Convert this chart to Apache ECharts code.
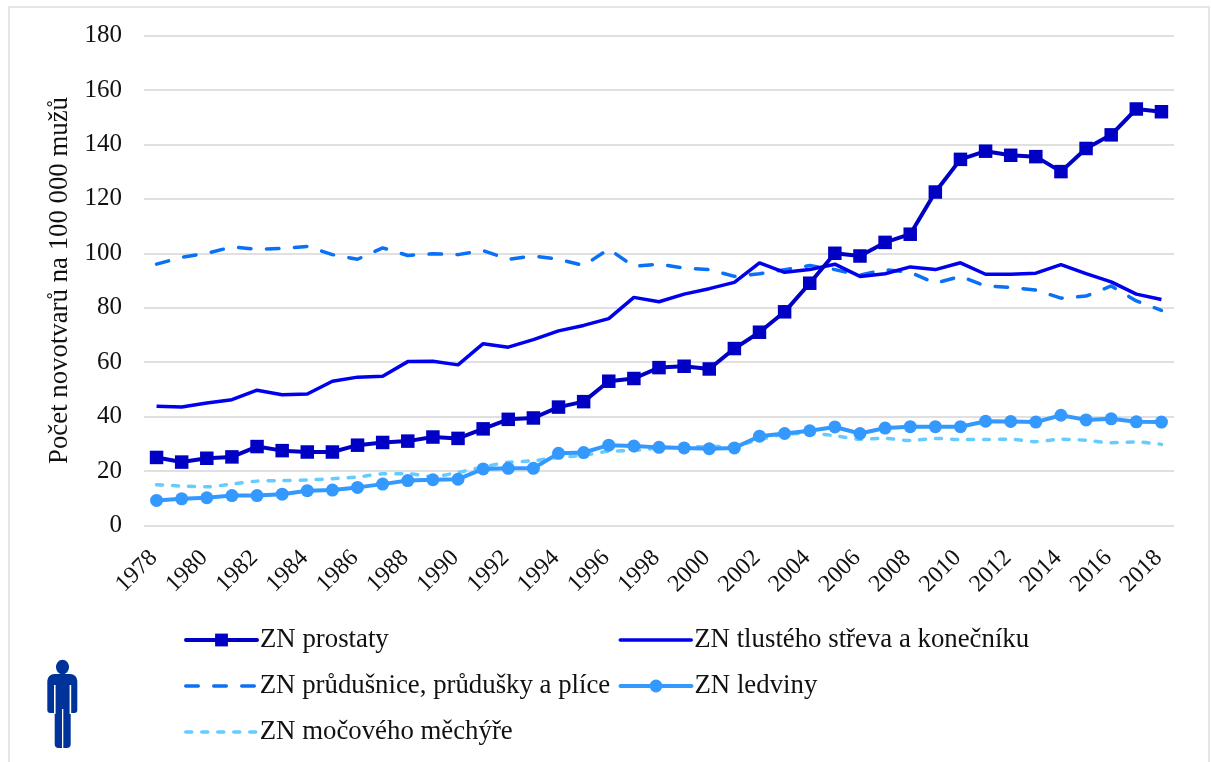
<!DOCTYPE html>
<html><head><meta charset="utf-8">
<style>html,body{margin:0;padding:0;background:#fff}#c{width:1211px;height:762px}</style>
<script src="https://cdn.jsdelivr.net/npm/echarts@6/dist/echarts.min.js"></script></head>
<body><div id="c"></div>
<script>
const years=[1978,1979,1980,1981,1982,1983,1984,1985,1986,1987,1988,1989,1990,1991,1992,1993,1994,1995,1996,1997,1998,1999,2000,2001,2002,2003,2004,2005,2006,2007,2008,2009,2010,2011,2012,2013,2014,2015,2016,2017,2018].map(String);
const prostate=[25,23.3,24.7,25.2,29,27.5,27,27,29.5,30.5,31,32.5,32,35.5,39,39.5,43.5,45.5,53,54,58,58.5,57.5,65,71,78.5,89,100,99,104,107,122.5,134.5,137.5,136,135.5,130,138.5,143.5,153,152];
const colon=[43.8,43.5,45,46.2,49.7,48,48.3,53,54.5,54.8,60.2,60.3,59,66.8,65.5,68.3,71.5,73.5,76,83.8,82.2,85,87,89.3,96.5,93,94,96,91.5,92.5,95,94,96.5,92.3,92.3,92.7,95.8,92.5,89.5,85,83];
const lung=[96,98.5,100,102.3,101.5,101.8,102.5,99.5,97.8,102,99.2,99.8,99.5,101,97.8,99,97.8,95.5,101.5,95.2,96,94.5,94,91.5,92.5,94,95.5,94,92,94,93,89,91.5,88,87.5,86.5,83.5,84.3,88,82.5,79];
const kidney=[9.2,9.8,10.2,11,11,11.5,12.8,13,14,15.2,16.5,16.8,17,20.8,21,21,26.5,26.8,29.5,29.2,28.7,28.5,28.2,28.5,32.8,33.8,34.8,36.2,33.8,35.8,36.3,36.3,36.3,38.3,38.2,38,40.5,38.8,39.2,38.1,38];
const bladder=[15,14.5,14.2,15.2,16.3,16.5,16.7,17.2,17.8,19,19,18,19.5,21.5,23.2,23.8,25,25.8,27.3,27.5,28.5,28.8,29,29.3,31.5,33.5,33.8,33,31.7,32,31.2,32,31.6,31.6,31.7,30.8,31.7,31.3,30.4,30.7,29.8];
const names=['ZN prostaty','ZN tlustého střeva a konečníku','ZN průdušnice, průdušky a plíce','ZN ledviny','ZN močového měchýře'];
const yTitle='Počet novotvarů na 100 000 mužů';
const serif='"Liberation Serif","Times New Roman",serif';
const colors=['#0000c4','#0000ee','#0a70f5','#3399ff','#66ccff'];
const widths=[4,3.5,3.5,4,3.5];
const dashes=['solid','solid',[12.5,15.5],'solid',[6,10]];
const hasSymbol=[true,false,false,true,false];
const legendAt=[[184,640],[618.5,640],[184,686],[618.5,686],[184,732]];
const iconColor='#003399';
const ch=echarts.init(document.getElementById('c'),null,{renderer:'canvas'});
ch.setOption({
 animation:false,
 backgroundColor:'#fff',
 grid:{left:144,right:37,top:35.5,bottom:236.5,containLabel:false},
 legend:names.map((n,i)=>({data:[n],left:legendAt[i][0],top:legendAt[i][1]-15,itemWidth:71,itemHeight:16,itemGap:0,padding:0,
   lineStyle:{color:colors[i],width:widths[i],type:dashes[i],cap:'round'},
   itemStyle:hasSymbol[i]?{color:colors[i]}:{color:'transparent',borderWidth:0},
   textStyle:{fontFamily:serif,fontSize:26.8,lineHeight:30,color:'#111',padding:[3,0,-3,-2]}})),
 xAxis:{type:'category',data:years,boundaryGap:true,
   axisLine:{show:false},axisTick:{show:false},splitLine:{show:false},
   axisLabel:{interval:1,rotate:45,fontFamily:serif,fontSize:24,color:'#111',margin:26,padding:[0,4,0,0],hideOverlap:false}},
 yAxis:{type:'value',min:0,max:180,interval:20,
   name:yTitle,nameLocation:'middle',nameGap:70,nameRotate:90,
   nameTextStyle:{fontFamily:serif,fontSize:26.8,color:'#111'},
   axisLine:{show:false},axisTick:{show:false},
   axisLabel:{fontFamily:serif,fontSize:25,color:'#111',margin:22,padding:[3,0,0,0]},
   splitLine:{lineStyle:{color:'#e0e0e0',width:2}}},
 series:[
  {name:names[4],type:'line',data:bladder,z:2,symbol:'none',smooth:0.25,lineStyle:{color:colors[4],width:widths[4],type:dashes[4],cap:'round'},itemStyle:{color:colors[4]}},
  {name:names[2],type:'line',data:lung,z:3,symbol:'none',lineStyle:{color:colors[2],width:widths[2],type:dashes[2],cap:'round'},itemStyle:{color:colors[2]}},
  {name:names[3],type:'line',data:kidney,z:4,symbol:'circle',symbolSize:13,lineStyle:{color:colors[3],width:widths[3]},itemStyle:{color:colors[3]}},
  {name:names[1],type:'line',data:colon,z:5,symbol:'none',lineStyle:{color:colors[1],width:widths[1]},itemStyle:{color:colors[1]}},
  {name:names[0],type:'line',data:prostate,z:6,symbol:'rect',symbolSize:13.5,lineStyle:{color:colors[0],width:widths[0]},itemStyle:{color:colors[0]}}
 ],
 graphic:[
  {type:'rect',x:8,y:6,shape:{width:2,height:756},style:{fill:'#e6e6e6'},silent:true},
  {type:'rect',x:8,y:6,shape:{width:1201,height:2},style:{fill:'#e6e6e6'},silent:true},
  {type:'rect',x:1208,y:6,shape:{width:2,height:756},style:{fill:'#e6e6e6'},silent:true},
  {type:'ellipse',silent:true,shape:{cx:62.5,cy:667,rx:6.5,ry:7.3},style:{fill:iconColor}},
  {type:'rect',silent:true,shape:{x:47.3,y:674,width:30,height:39,r:[7,7,3,3]},style:{fill:iconColor}},
  {type:'rect',silent:true,shape:{x:54.7,y:705,width:16,height:43,r:[0,0,4,4]},style:{fill:iconColor}},
  {type:'rect',silent:true,shape:{x:54,y:685,width:1.6,height:29},style:{fill:'#fff'}},
  {type:'rect',silent:true,shape:{x:69.6,y:685,width:1.6,height:29},style:{fill:'#fff'}},
  {type:'rect',silent:true,shape:{x:62,y:709,width:1.3,height:40},style:{fill:'#fff'}}
 ]
});
</script></body></html>
